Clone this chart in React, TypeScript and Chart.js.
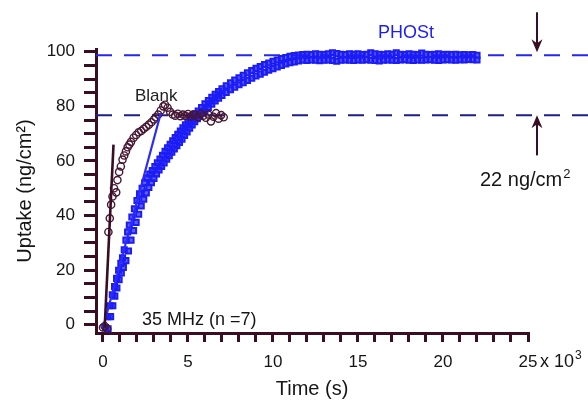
import React, { useEffect, useRef } from 'react';
import { Chart, registerables } from 'chart.js';

Chart.register(...registerables);

// ---------- data (time in s, uptake in ng/cm²) ----------
const phostTimeA = [
  150, 300, 420, 550, 680, 800, 920, 1050, 1150, 1250,
  1350, 1450, 1550, 1700, 1850, 2000, 2150, 2300, 2450, 2600,
  2750, 2900, 3050, 3200, 3350, 3500, 3650, 3800, 3950, 4100,
  4250, 4400, 4550, 4700, 4850, 5000, 5150, 5300, 5450, 5600,
  5800, 6000, 6200, 6400, 6600, 6800, 7000, 7250, 7500, 7750,
  8000, 8250, 8500, 8750, 9000, 9250, 9500, 9750, 10000, 10250,
  10500, 10750, 11000, 11250, 11500,
  11750, 12000, 12250, 12500, 12750, 13000, 13250, 13500, 13750, 14000,
  14250, 14500, 14750, 15000, 15250, 15500, 15750, 16000, 16250, 16500,
  16750, 17000, 17250, 17500, 17750, 18000, 18250, 18500, 18750, 19000,
  19250, 19500, 19750, 20000, 20250, 20500, 20750, 21000, 21250, 21500,
  21750, 22000,
];
const phostUptakeA = [
  -1, 3, 7, 11, 14, 17, 20, 22.5, 24.5, 27.5,
  31, 34, 36.5, 39.5, 42.5, 45.5, 48, 50, 52, 53.8,
  55.2, 56.5, 58, 59.3, 60.7, 62.1, 63.5, 64.8, 66.1, 67.4,
  68.6, 69.8, 71, 72.1, 73.2, 74.3, 75.3, 76.3, 77.3, 78.3,
  79.6, 80.9, 82.1, 83.3, 84.4, 85.4, 86.4, 87.5, 88.6, 89.6,
  90.5, 91.4, 92.3, 93.1, 93.9, 94.6, 95.3, 95.9, 96.5, 97,
  97.5, 97.9, 98.3, 98.6, 98.8,
  99.0, 99.1, 99.0, 99.2, 99.1, 99.0, 99.2, 99.6, 99.3, 99.1,
  99.0, 99.2, 99.1, 99.2, 99.0, 99.1, 99.6, 99.2, 99.1, 99.0,
  99.2, 99.1, 99.6, 99.1, 99.0, 99.2, 99.1, 99.0, 99.5, 99.1,
  99.0, 99.1, 99.2, 99.0, 99.1, 99.0, 99.1, 98.9, 99.0, 98.9,
  99.0, 98.7,
];

const phostTimeB = [
  300, 450, 580, 700, 820, 950, 1080, 1200, 1350, 1500,
  1650, 1800, 1950, 2100, 2250, 2400, 2550, 2700, 2850, 3000,
  3150, 3300, 3450, 3600, 3750, 3900, 4050, 4200, 4350, 4500,
  4650, 4800, 4950, 5100, 5250, 5400, 5550, 5700, 5850, 6000,
  6200, 6400, 6600, 6800, 7000, 7250, 7500, 7750, 8000, 8250,
  8500, 8750, 9000, 9250, 9500, 9750, 10000, 10250, 10500, 10750,
  11000, 11250, 11500,
  11750, 12000, 12250, 12500, 12750, 13000, 13250, 13500, 13750, 14000,
  14250, 14500, 14750, 15000, 15250, 15500, 15750, 16000, 16250, 16500,
  16750, 17000, 17250, 17500, 17750, 18000, 18250, 18500, 18750, 19000,
  19250, 19500, 19750, 20000, 20250, 20500, 20750, 21000, 21250, 21500,
  21750, 22000,
];
const phostUptakeB = [
  -1.5, 3, 7, 10.5, 13.5, 16.5, 19, 21, 23.5, 27,
  31, 34.5, 37.5, 40.5, 43.5, 46, 48.3, 50.3, 52, 53.6,
  55.2, 56.7, 58, 59.3, 60.6, 61.9, 63.2, 64.4, 65.6, 66.8,
  68, 69.3, 70.6, 72, 73.2, 74.4, 75.5, 76.5, 77.5, 78.4,
  79.6, 80.8, 82, 83, 84, 85.1, 86.1, 87, 87.9, 88.7,
  89.5, 90.3, 91.1, 91.8, 92.5, 93.2, 93.8, 94.4, 95, 95.5,
  96, 96.3, 96.6,
  96.9, 96.8, 97.0, 96.9, 96.7, 96.9, 97.0, 96.8, 96.5, 96.9,
  97.0, 96.9, 96.8, 97.0, 96.9, 97.1, 96.9, 96.8, 96.6, 96.9,
  97.0, 96.9, 96.8, 97.0, 97.1, 96.9, 96.8, 97.0, 96.9, 97.0,
  97.1, 96.9, 96.8, 97.0, 97.1, 97.0, 96.9, 97.1, 97.0, 97.2,
  97.1, 97.0,
];

const blankTime = [
  0, 100, 250, 320, 400, 480, 560, 650, 780, 850,
  950, 1050, 1150, 1250, 1350, 1450, 1550, 1650, 1800, 1950,
  2100, 2250, 2400, 2550, 2700, 2850, 3000, 3100, 3250, 3400,
  3550, 3650, 3800, 3950, 4100, 4250, 4400, 4550, 4700, 4850,
  5000, 5150, 5300, 5450, 5600, 5750, 5900, 6050, 6200, 6350,
  6500, 6650, 6800, 6950, 7100,
];
const blankUptake = [
  -1, -0.5, -1.5, 34, 39, 44, 47, 50, 48.5, 53,
  56, 58, 60.5, 62, 63.5, 65, 66, 67, 68.5, 69.5,
  70.5, 71, 71.8, 72.5, 73.3, 74.2, 75.2, 76, 77, 78.5,
  80, 80.6, 79.5, 78, 77, 76.6, 77.3, 76.4, 77, 76.5,
  77.2, 76.3, 77, 76.8, 76, 77.4, 76.6, 75.8, 77, 74.5,
  76.2, 77.5, 75.5, 76.8, 76,
];

// initial-slope fit lines
const blankFitTime = [100, 620];
const blankFitUptake = [-1, 66];
const phostFitTime = [50, 3400];
const phostFitUptake = [0, 77.5];

// plateau levels (difference = 22 ng/cm²)
const PHOST_LEVEL = 98.7;
const BLANK_LEVEL = 76.7;
const ARROW_TIME = 25530;

// axes
const X_MIN = -410;
const X_MAX = 25000;
const xTickValues = [
  0, 1000, 2000, 3000, 4000, 5000, 6000, 7000, 8000, 9000,
  10000, 11000, 12000, 13000, 14000, 15000, 16000, 17000, 18000, 19000,
  20000, 21000, 22000, 23000, 24000, 25000,
];
const xTickLabels: Record<number, string> = { 0: '0', 5000: '5', 10000: '10', 15000: '15', 20000: '20', 25000: '25' };
const Y_MIN = -3;
const Y_MAX = 101;
const yTickValues = [0, 5, 10, 15, 20, 25, 30, 35, 40, 45, 50, 55, 60, 65, 70, 75, 80, 85, 90, 95, 100];
const yTickLabels: Record<number, string> = { 0: '0', 20: '20', 40: '40', 60: '60', 80: '80', 100: '100' };

// ---------- styles ----------
const FONT = '"Liberation Sans", Arial, Helvetica, sans-serif';
const AXIS = '#3a0e22';
const BLANK_COLOR = '#461632';
const BLUE = '#1c1cf6';
const BLUE_FILL = 'rgba(28,28,246,0.7)';
const BLUE_LINE = '#2a2aff';
const TEXT = '#151515';

const pts = (xs: number[], ys: number[]) => xs.map((t, i) => ({ x: t, y: ys[i] }));

function drawArrow(ctx: CanvasRenderingContext2D, x: number, y0: number, y1: number) {
  const d = Math.sign(y1 - y0);
  ctx.save();
  ctx.strokeStyle = AXIS;
  ctx.fillStyle = AXIS;
  ctx.lineWidth = 2;
  ctx.beginPath();
  ctx.moveTo(x, y0);
  ctx.lineTo(x, y1 - d * 8);
  ctx.stroke();
  ctx.beginPath();
  ctx.moveTo(x, y1);
  ctx.lineTo(x - 5.5, y1 - d * 13);
  ctx.lineTo(x, y1 - d * 9);
  ctx.lineTo(x + 5.5, y1 - d * 13);
  ctx.closePath();
  ctx.fill();
  ctx.restore();
}

const overlayPlugin = {
  id: 'overlay',
  beforeDatasetsDraw(chart: any) {
    const { ctx, chartArea, scales } = chart;
    const y = scales.y;
    ctx.save();
    ctx.lineWidth = 2;
    ctx.setLineDash([16, 12]);
    const lines: [number, string][] = [
      [PHOST_LEVEL, '#2626ee'],
      [BLANK_LEVEL, '#1e1e8a'],
    ];
    for (const [lvl, col] of lines) {
      const py = y.getPixelForValue(lvl);
      ctx.strokeStyle = col;
      ctx.beginPath();
      ctx.moveTo(chartArea.left, py);
      ctx.lineTo(chart.width, py);
      ctx.stroke();
    }
    ctx.restore();
  },
  afterDraw(chart: any) {
    const { ctx, scales } = chart;
    const x = scales.x;
    const y = scales.y;
    const ax = x.getPixelForValue(ARROW_TIME);
    const yTop = y.getPixelForValue(PHOST_LEVEL);
    const yBot = y.getPixelForValue(BLANK_LEVEL);
    drawArrow(ctx, ax, yTop - 43, yTop - 3);
    drawArrow(ctx, ax, yBot + 40, yBot);

    ctx.save();
    ctx.textAlign = 'left';
    ctx.textBaseline = 'alphabetic';

    ctx.fillStyle = BLUE;
    ctx.font = `18px ${FONT}`;
    ctx.fillText('PHOSt', 378, 38);

    ctx.fillStyle = '#222';
    ctx.font = `17px ${FONT}`;
    ctx.fillText('Blank', 135, 101);

    ctx.fillStyle = TEXT;
    ctx.font = `18px ${FONT}`;
    ctx.fillText('35 MHz (n =7)', 142, 325);

    ctx.font = `20px ${FONT}`;
    const t1 = '22 ng/cm';
    ctx.fillText(t1, 480, 186);
    const w1 = ctx.measureText(t1).width;
    ctx.font = `13px ${FONT}`;
    ctx.fillText('2', 480 + w1 + 1, 178);

    ctx.font = `18px ${FONT}`;
    const t2 = 'x 10';
    const x25 = x.getPixelForValue(X_MAX);
    ctx.fillText(t2, x25 + 12, 367);
    const w2 = ctx.measureText(t2).width;
    ctx.font = `12px ${FONT}`;
    ctx.fillText('3', x25 + 12 + w2 + 1, 359);
    ctx.restore();
  },
};

export default function App() {
  const ref = useRef<HTMLCanvasElement | null>(null);

  useEffect(() => {
    if (!ref.current) return;
    Chart.defaults.font.family = FONT;
    const chart = new Chart(ref.current, {
      type: 'scatter',
      data: {
        datasets: [
          {
            label: 'Blank fit',
            data: pts(blankFitTime, blankFitUptake),
            showLine: true,
            borderColor: AXIS,
            borderWidth: 2.6,
            pointRadius: 0,
            order: 0,
          },
          {
            label: 'PHOSt fit',
            data: pts(phostFitTime, phostFitUptake),
            showLine: true,
            borderColor: BLUE_LINE,
            borderWidth: 2.2,
            pointRadius: 0,
            order: 1,
          },
          {
            label: 'Blank',
            data: pts(blankTime, blankUptake),
            pointStyle: 'circle',
            pointRadius: 3.6,
            pointBorderWidth: 1.4,
            pointBorderColor: BLANK_COLOR,
            pointBackgroundColor: 'rgba(255,255,255,0)',
            order: 2,
          },
          {
            label: 'PHOSt A',
            data: pts(phostTimeA, phostUptakeA),
            pointStyle: 'rect',
            pointRadius: 3.6,
            pointBorderWidth: 2,
            pointBorderColor: BLUE,
            pointBackgroundColor: BLUE_FILL,
            order: 3,
          },
          {
            label: 'PHOSt B',
            data: pts(phostTimeB, phostUptakeB),
            pointStyle: 'rect',
            pointRadius: 3.6,
            pointBorderWidth: 2,
            pointBorderColor: BLUE,
            pointBackgroundColor: BLUE_FILL,
            order: 4,
          },
        ],
      },
      options: {
        animation: false,
        responsive: false,
        layout: { padding: { top: 49, right: 60, bottom: 0, left: 0 } },
        plugins: { legend: { display: false }, tooltip: { enabled: false } },
        scales: {
          x: {
            type: 'linear',
            min: X_MIN,
            max: X_MAX,
            afterFit: (s: any) => {
              s.height = 68;
            },
            afterBuildTicks: (s: any) => {
              s.ticks = xTickValues.map((v) => ({ value: v }));
            },
            ticks: {
              autoSkip: false,
              maxRotation: 0,
              padding: 10,
              color: TEXT,
              font: { size: 17 },
              callback: (v: any) => xTickLabels[Number(v)] ?? '',
            },
            grid: {
              display: true,
              drawOnChartArea: false,
              drawTicks: true,
              tickLength: 9,
              tickWidth: 3,
              tickColor: AXIS,
              lineWidth: 3,
              color: AXIS,
            },
            border: { display: true, width: 3, color: AXIS },
            title: {
              display: true,
              text: 'Time (s)',
              color: TEXT,
              font: { size: 20 },
              padding: { top: 0, bottom: 0 },
            },
          },
          y: {
            type: 'linear',
            min: Y_MIN,
            max: Y_MAX,
            afterFit: (s: any) => {
              s.width = 96;
            },
            afterBuildTicks: (s: any) => {
              s.ticks = yTickValues.map((v) => ({ value: v }));
            },
            ticks: {
              autoSkip: false,
              padding: 9,
              color: TEXT,
              font: { size: 17 },
              callback: (v: any) => yTickLabels[Number(v)] ?? '',
            },
            grid: {
              display: true,
              drawOnChartArea: false,
              drawTicks: true,
              tickLength: 12,
              tickWidth: 3,
              tickColor: AXIS,
              lineWidth: 3,
              color: AXIS,
            },
            border: { display: true, width: 3, color: AXIS },
            title: {
              display: true,
              text: 'Uptake (ng/cm²)',
              color: TEXT,
              font: { size: 20 },
              padding: { top: 13, bottom: 0 },
            },
          },
        },
      },
      plugins: [overlayPlugin],
    } as any);
    return () => chart.destroy();
  }, []);

  return (
    <div style={{ position: 'absolute', left: 0, top: 0, width: 588, height: 401, background: '#fff' }}>
      <canvas ref={ref} width={588} height={401} style={{ display: 'block', width: 588, height: 401 }} />
    </div>
  );
}
